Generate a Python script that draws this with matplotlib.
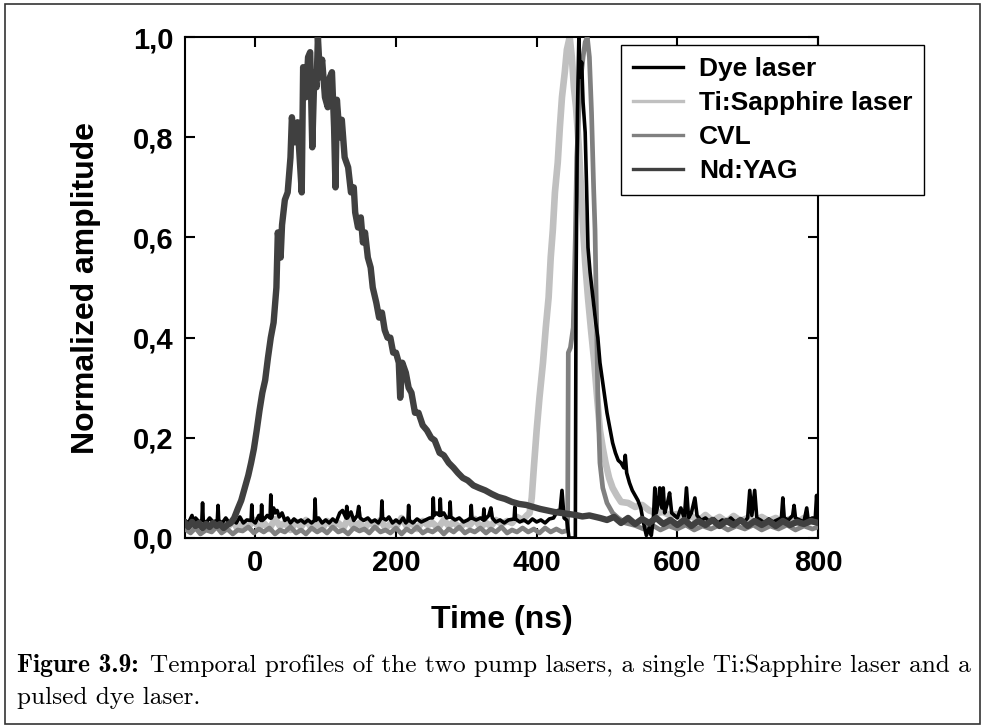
import matplotlib
matplotlib.use('Agg')
import matplotlib.pyplot as plt
from matplotlib.patches import Rectangle
import numpy as np

plt.rcParams['font.family'] = 'Liberation Sans'
plt.rcParams['font.weight'] = 'bold'

labels = ['Dye laser', 'Ti:Sapphire laser', 'CVL', 'Nd:YAG']
colors = ['#000000', '#c0c0c0', '#808080', '#404040']

# Dye laser trace (time in ns, normalized amplitude)
dye_t = [-100, -95, -90, -88, -85, -80, -76, -75, -74, -70, -65, -60, -54, -53, -52, -47, -42, -37,
         -32, -27, -22, -17, -12, -6, -5, -4, 0, 5, 8, 9, 10, 14, 17, 21, 22, 23, 26, 28, 31, 34, 38,
         42, 46, 50, 55, 60, 65, 70, 75, 80, 84, 85, 86, 90, 95, 100, 105, 110, 115, 120, 124, 129,
         130, 131, 136, 140, 145, 147, 149, 154, 160, 165, 170, 175, 179, 180, 181, 186, 190, 195,
         200, 205, 210, 214, 217, 218, 219, 224, 230, 236, 242, 248, 252, 253, 254, 258, 262, 263,
         264, 268, 272, 276, 277, 278, 284, 290, 296, 302, 306, 307, 308, 314, 320, 324, 325, 326,
         332, 335, 337, 342, 348, 354, 360, 368, 369, 370, 376, 382, 388, 394, 400, 406, 412, 418,
         424, 430, 433, 436, 439, 443, 446, 452, 455, 456, 458, 460, 462, 464, 466, 469, 471, 473,
         476, 480, 484, 487, 490, 494, 497, 500, 504, 508, 512, 516, 520, 524, 526, 528, 532, 536,
         540, 544, 548, 552, 556, 560, 563, 566, 568, 570, 573, 575, 578, 580, 582, 586, 589, 592,
         596, 600, 605, 610, 613, 616, 620, 625, 628, 634, 640, 646, 652, 658, 664, 670, 676, 682,
         688, 694, 700, 703, 706, 710, 713, 718, 724, 730, 736, 742, 748, 750, 752, 758, 764, 766,
         768, 774, 780, 784, 786, 792, 796, 798, 800]
dye_y = [.035, .030, .045, .030, .040, .032, .035, .070, .035, .030, .040, .032, .035, .065, .035,
         .030, .040, .030, .036, .030, .042, .030, .036, .035, .066, .035, .030, .045, .035, .066,
         .035, .040, .045, .040, .086, .040, .060, .050, .055, .042, .050, .035, .040, .030, .038,
         .032, .036, .030, .036, .030, .035, .078, .035, .040, .030, .036, .030, .038, .032, .050,
         .055, .040, .063, .040, .052, .035, .045, .063, .040, .035, .040, .032, .036, .030, .040,
         .074, .040, .036, .042, .030, .036, .030, .040, .030, .035, .065, .035, .030, .038, .032,
         .036, .040, .040, .080, .045, .050, .045, .078, .045, .050, .040, .042, .072, .042, .036,
         .040, .032, .036, .040, .065, .040, .036, .040, .036, .058, .036, .045, .060, .040, .032,
         .036, .030, .036, .038, .062, .038, .032, .036, .030, .038, .032, .036, .030, .038, .040,
         .055, .050, .095, .040, .035, .000, .000, .000, .500, .850, 1.00, .920, .950, .870, .810,
         .700, .580, .530, .480, .430, .400, .350, .310, .280, .250, .220, .190, .170, .155, .150,
         .140, .165, .130, .110, .095, .085, .075, .060, .030, .005, .020, .005, .040, .100, .050,
         .070, .100, .060, .100, .050, .070, .090, .050, .045, .040, .060, .040, .100, .040, .050,
         .080, .045, .035, .040, .032, .038, .030, .036, .032, .040, .032, .036, .030, .040, .095,
         .045, .095, .040, .036, .030, .038, .032, .036, .040, .080, .040, .036, .045, .065, .040,
         .036, .032, .060, .036, .040, .036, .085, .040]

# Ti:Sapphire laser trace
ti_t = [-100, -92, -85, -78, -70, -62, -55, -48, -40, -32, -25, -18, -10, -2, 5, 12, 20, 28, 35, 42,
        50, 58, 65, 72, 80, 88, 95, 102, 110, 118, 125, 132, 140, 148, 155, 162, 170, 178, 185, 192,
        200, 208, 215, 222, 230, 238, 245, 252, 260, 268, 275, 282, 290, 298, 305, 312, 320, 328,
        335, 342, 350, 358, 365, 372, 380, 386, 390, 393, 396, 400, 404, 409, 413, 417, 420, 423,
        426, 430, 433, 436, 440, 443, 447, 450, 453, 456, 460, 463, 466, 469, 473, 477, 482, 486,
        490, 494, 498, 503, 508, 514, 520, 530, 540, 550, 560, 570, 580, 590, 600, 610, 620, 630,
        640, 650, 660, 670, 680, 690, 700, 710, 720, 730, 740, 750, 760, 770, 780, 790, 800]
ti_y = [.028, .018, .035, .022, .030, .016, .032, .024, .020, .034, .018, .028, .022, .036, .020,
        .030, .018, .038, .024, .030, .016, .032, .022, .036, .020, .028, .018, .034, .024, .030,
        .020, .038, .022, .030, .018, .032, .024, .036, .020, .028, .022, .040, .024, .030, .018,
        .034, .026, .030, .020, .036, .024, .032, .020, .030, .026, .038, .022, .030, .024, .036,
        .028, .034, .030, .042, .036, .045, .050, .080, .140, .215, .280, .350, .420, .480, .560,
        .615, .690, .750, .820, .880, .930, .975, 1.00, .960, .900, .860, .780, .700, .620, .550,
        .480, .420, .350, .280, .215, .180, .150, .120, .100, .085, .072, .070, .062, .066, .055,
        .050, .052, .045, .048, .036, .044, .034, .046, .034, .042, .032, .044, .034, .040, .032,
        .042, .034, .040, .032, .038, .030, .040, .032, .036]

# CVL trace
cvl_t = [-100, -92, -85, -78, -70, -62, -55, -48, -40, -32, -25, -18, -10, -2, 5, 12, 20, 28, 35,
         42, 50, 58, 65, 72, 80, 88, 95, 102, 110, 118, 125, 132, 140, 148, 155, 162, 170, 178, 185,
         192, 200, 208, 215, 222, 230, 238, 245, 252, 260, 268, 275, 282, 290, 298, 305, 312, 320,
         328, 335, 342, 350, 358, 365, 372, 380, 388, 396, 404, 412, 420, 428, 436, 444, 445, 448,
         452, 455, 457, 460, 463, 466, 469, 472, 475, 478, 481, 483, 485, 487, 490, 494, 500, 508,
         516, 526, 540, 552, 564, 576, 588, 600, 612, 624, 636, 648, 660, 672, 684, 696, 708, 720,
         732, 744, 756, 768, 780, 792, 800]
cvl_y = [.018, .010, .020, .008, .016, .012, .022, .010, .018, .008, .016, .014, .022, .010, .018,
         .012, .020, .008, .016, .012, .022, .010, .016, .008, .020, .012, .018, .010, .022, .012,
         .016, .008, .020, .014, .018, .010, .022, .012, .016, .010, .020, .008, .018, .012, .022,
         .010, .016, .012, .020, .008, .018, .012, .022, .010, .016, .012, .020, .010, .018, .012,
         .022, .010, .016, .012, .020, .012, .018, .010, .020, .012, .018, .012, .015, .370, .380,
         .420, .600, .760, .850, .920, .960, .990, 1.00, .960, .850, .700, .615, .450, .280, .150,
         .100, .070, .050, .040, .030, .025, .018, .026, .016, .024, .018, .026, .016, .024, .018,
         .026, .016, .024, .018, .026, .016, .024, .018, .026, .016, .024, .018, .022]

# Nd:YAG trace
nd_t = [-100, -95, -90, -85, -80, -75, -70, -65, -60, -55, -50, -45, -40, -35, -30, -25, -20, -15,
        -10, -6, -2, 2, 6, 10, 14, 18, 22, 26, 30, 32, 36, 38, 42, 46, 50, 52, 56, 60, 63, 66, 68,
        72, 75, 78, 81, 84, 87, 89, 92, 95, 99, 103, 106, 109, 112, 114, 116, 120, 123, 127, 132,
        136, 140, 142, 146, 150, 153, 156, 160, 164, 167, 172, 176, 180, 184, 188, 192, 196, 200,
        204, 206, 209, 214, 218, 222, 227, 232, 238, 244, 250, 255, 262, 268, 275, 282, 288, 295,
        302, 310, 318, 327, 336, 345, 355, 365, 375, 385, 395, 405, 415, 425, 435, 445, 455, 465,
        475, 490, 500, 510, 520, 530, 540, 550, 560, 570, 580, 590, 600, 610, 620, 630, 640, 650,
        660, 670, 680, 690, 700, 710, 720, 730, 740, 750, 760, 770, 780, 790, 800]
nd_y = [.030, .022, .032, .024, .030, .020, .028, .022, .030, .024, .028, .020, .026, .030, .040,
        .058, .075, .100,
        .125, .150, .178, .215, .255, .290, .315, .360, .400, .430, .500, .610, .560, .625, .675,
        .690, .760, .840, .790, .830, .760, .690, .940,
        .880, .960, .970, .780, .930, .900, 1.00, .920, .955, .880, .860, .920, .930, .820, .700,
        .875, .800, .835, .760, .740,
        .690, .700, .650, .620, .640, .590, .610, .560, .540, .500, .470, .440, .450, .415, .400,
        .400, .370, .370,
        .350, .280, .350, .330, .300, .290, .250, .250, .225, .215, .200, .195, .170, .165, .150,
        .140, .130, .120,
        .115, .105, .100, .095, .088, .082, .078, .072, .068, .066, .062, .058, .055, .052, .050,
        .048, .046, .043,
        .045, .040, .036, .042, .030, .040, .028, .038, .030, .040, .028, .036, .026, .036, .024,
        .034, .026, .036,
        .024, .034, .026, .036, .024, .034, .026, .034, .024, .034, .026, .032, .028, .034, .030]

fig = plt.figure(figsize=(9.86, 7.28), dpi=100)
ax = fig.add_axes([0.1876, 0.261, 0.642, 0.688])

ax.plot(ti_t, ti_y, color=colors[1], lw=4.8, label=labels[1], zorder=2)
ax.plot(cvl_t, cvl_y, color=colors[2], lw=3.4, label=labels[2], zorder=3)
ax.plot(dye_t, dye_y, color=colors[0], lw=2.6, label=labels[0], zorder=4)
ax.plot(nd_t, nd_y, color=colors[3], lw=4.6, label=labels[3], zorder=5)

ax.set_xlim(-100, 800)
ax.set_ylim(0, 1.0)
ax.set_xticks([0, 200, 400, 600, 800])
ax.set_yticks([0, 0.2, 0.4, 0.6, 0.8, 1.0])
ax.yaxis.set_major_formatter(lambda v, p: f'{v:.1f}'.replace('.', ','))
ax.tick_params(direction='in', length=7, width=1.5, top=True, right=True,
               labelsize=21, pad=8)
for s in ax.spines.values():
    s.set_linewidth(1.5)

ax.set_xlabel('Time (ns)', fontsize=23, fontweight='bold', labelpad=20)
ax.set_ylabel('Normalized amplitude', fontsize=23, fontweight='bold', labelpad=23)

h, l = ax.get_legend_handles_labels()
order = [2, 0, 1, 3]
leg = ax.legend([h[i] for i in order], [l[i] for i in order], loc='upper left',
                bbox_to_anchor=(0.689, 0.984), borderaxespad=0, fontsize=19,
                fancybox=False, edgecolor='black', framealpha=1,
                handlelength=1.9, handletextpad=0.6, labelspacing=0.38,
                borderpad=0.45)
leg.get_frame().set_linewidth(1.0)
for ln in leg.get_lines():
    ln.set_linewidth(2.4)

# outer frame and caption
fig.patches.append(Rectangle((5 / 986, 4 / 728), 975 / 986, 720 / 728, transform=fig.transFigure,
                             fill=False, edgecolor='#333333', lw=1.2))
t1 = fig.text(17 / 986, 1 - 672 / 728, 'Figure 3.9:', family='cmb10', fontsize=18.4,
              va='baseline', fontweight='normal')
r = fig.canvas.get_renderer()
bb = t1.get_window_extent(r)
fig.text(bb.x1 / 986 + 11 / 986, 1 - 672 / 728,
         'Temporal profiles of the two pump lasers, a single Ti:Sapphire laser and a',
         family='cmr10', fontsize=18.2, va='baseline', fontweight='normal')
fig.text(17 / 986, 1 - 704 / 728, 'pulsed dye laser.', family='cmr10', fontsize=18.2,
         va='baseline', fontweight='normal')

plt.savefig('out.png', dpi=100)
